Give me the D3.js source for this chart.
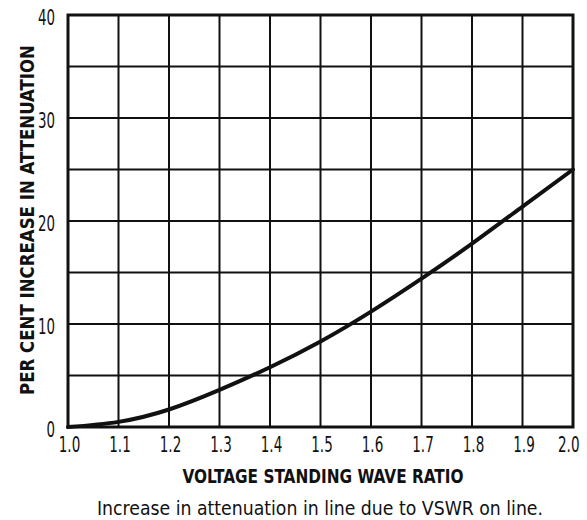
<!DOCTYPE html>
<html>
<head>
<meta charset="utf-8">
<script src="https://cdn.jsdelivr.net/npm/d3@7"></script>
<style>
  html, body { margin: 0; padding: 0; background: #fff; }
  svg { display: block; }
  text { fill: #111; }
</style>
</head>
<body>
<svg id="chart" width="587" height="520"></svg>
<script>
// ---- data ----
const vswr = [1.0, 1.1, 1.2, 1.3, 1.4, 1.5, 1.6, 1.7, 1.8, 1.9, 2.0];
const pctIncrease = [0, 0.5, 1.7, 3.6, 5.8, 8.3, 11.2, 14.4, 17.8, 21.4, 25.0];
const xTicks = [1.0, 1.1, 1.2, 1.3, 1.4, 1.5, 1.6, 1.7, 1.8, 1.9, 2.0];
const yTickLabels = [0, 10, 20, 30, 40];
const yGrid = [0, 5, 10, 15, 20, 25, 30, 35, 40];
const xTitle = "VOLTAGE STANDING WAVE RATIO";
const yTitle = "PER CENT INCREASE IN ATTENUATION";
const caption = "Increase in attenuation in line due to VSWR on line.";

// ---- layout ----
const svg = d3.select("#chart");
const L = 68, R = 573, T = 15, B = 427;
const narrow = "'Liberation Sans Narrow', 'DejaVu Sans Condensed', 'Arial Narrow', sans-serif";

const x = d3.scaleLinear().domain([1.0, 2.0]).range([L, R]);
const y = d3.scaleLinear().domain([0, 40]).range([B, T]);

// width estimate for condensed labels
const labelLen = s => s.split("").reduce((a, c) => a + (c === "." ? 4.5 : 8.5), 0);

// grid
const g = svg.append("g");
g.selectAll("line.v").data(xTicks).join("line")
  .attr("x1", d => x(d)).attr("x2", d => x(d))
  .attr("y1", T).attr("y2", B)
  .attr("stroke", "#111").attr("stroke-width", 2);
g.selectAll("line.h").data(yGrid).join("line")
  .attr("y1", d => y(d)).attr("y2", d => y(d))
  .attr("x1", L).attr("x2", R)
  .attr("stroke", "#111").attr("stroke-width", 2);

// frame
svg.append("rect").attr("x", L).attr("y", T).attr("width", R - L).attr("height", B - T)
  .attr("fill", "none").attr("stroke", "#111").attr("stroke-width", 3);

// curve
const pts = vswr.map((v, i) => [v, pctIncrease[i]]);
svg.append("path").datum(pts)
  .attr("d", d3.line().x(d => x(d[0])).y(d => y(d[1])).curve(d3.curveNatural))
  .attr("fill", "none").attr("stroke", "#111").attr("stroke-width", 4)
  .attr("stroke-linecap", "round");

// x axis tick labels
const xAxis = d3.axisBottom(x).tickValues(xTicks).tickFormat(d3.format(".1f")).tickSize(0).tickPadding(10);
const xa = svg.append("g").attr("transform", `translate(0,${B})`).call(xAxis);
xa.select(".domain").remove();
xa.selectAll("text").attr("font-family", narrow).attr("font-size", 21).attr("fill", "#111")
  .attr("text-anchor", d => d === 2.0 ? "end" : "middle")
  .attr("dx", d => d === 2.0 ? 6 : 1)
  .attr("textLength", function () { return labelLen(this.textContent); })
  .attr("lengthAdjust", "spacingAndGlyphs");

// y axis tick labels
const yAxis = d3.axisLeft(y).tickValues(yTickLabels).tickFormat(d3.format("d")).tickSize(0).tickPadding(13);
const ya = svg.append("g").attr("transform", `translate(${L},0)`).call(yAxis);
ya.select(".domain").remove();
ya.selectAll("text").attr("font-family", narrow).attr("font-size", 21).attr("fill", "#111")
  .attr("dy", "0.45em")
  .attr("textLength", function () { return labelLen(this.textContent); })
  .attr("lengthAdjust", "spacingAndGlyphs");

// titles
svg.append("text").attr("x", 323).attr("y", 483).attr("text-anchor", "middle")
  .attr("font-family", narrow).attr("font-weight", "bold").attr("font-size", 20)
  .attr("textLength", 281).attr("lengthAdjust", "spacingAndGlyphs")
  .text(xTitle);

svg.append("text").attr("transform", "translate(34,220) rotate(-90)").attr("text-anchor", "middle")
  .attr("font-family", narrow).attr("font-weight", "bold").attr("font-size", 20)
  .attr("textLength", 350).attr("lengthAdjust", "spacingAndGlyphs")
  .text(yTitle);

svg.append("text").attr("x", 320).attr("y", 515).attr("text-anchor", "middle")
  .attr("font-family", narrow).attr("font-size", 20)
  .attr("textLength", 446).attr("lengthAdjust", "spacingAndGlyphs")
  .text(caption);
</script>
</body>
</html>
